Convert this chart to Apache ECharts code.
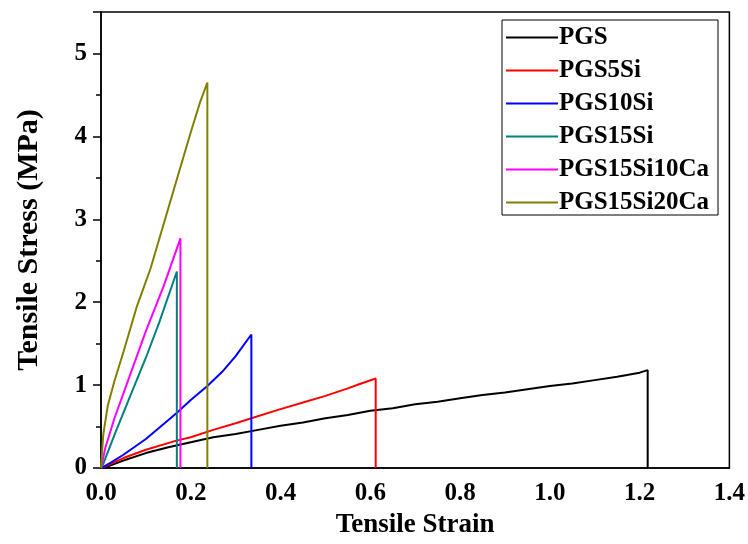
<!DOCTYPE html>
<html>
<head>
<meta charset="utf-8">
<script src="https://cdn.jsdelivr.net/npm/echarts@6/dist/echarts.min.js"></script>
<style>html,body{margin:0;padding:0;background:#fff}#c{width:748px;height:544px}</style>
</head>
<body>
<div id="c"></div>
<script>
const seriesNames = ['PGS', 'PGS5Si', 'PGS10Si', 'PGS15Si', 'PGS15Si10Ca', 'PGS15Si20Ca'];
const seriesColors = ['#000000', '#ff0000', '#0000ff', '#008080', '#ff00ff', '#808000'];
const xTicks = [0, 0.2, 0.4, 0.6, 0.8, 1.0, 1.2, 1.4];
const yTicks = [0, 1, 2, 3, 4, 5];

const pgsStrain = [0, 0.01, 0.02, 0.05, 0.1, 0.15, 0.2, 0.25, 0.3, 0.35, 0.4, 0.45, 0.5, 0.55, 0.6, 0.65, 0.7, 0.75, 0.8, 0.85, 0.9, 0.95, 1.0, 1.05, 1.1, 1.15, 1.2, 1.218, 1.218];
const pgsStress = [0, 0.01, 0.03, 0.09, 0.18, 0.25, 0.31, 0.37, 0.41, 0.46, 0.51, 0.55, 0.6, 0.64, 0.69, 0.72, 0.77, 0.8, 0.84, 0.88, 0.91, 0.95, 0.99, 1.02, 1.06, 1.1, 1.15, 1.18, 0];

const si5Strain = [0, 0.01, 0.03, 0.05, 0.1, 0.168, 0.2, 0.25, 0.3, 0.335, 0.4, 0.45, 0.5, 0.55, 0.575, 0.612, 0.612];
const si5Stress = [0, 0.02, 0.07, 0.12, 0.22, 0.33, 0.37, 0.46, 0.54, 0.6, 0.71, 0.79, 0.87, 0.96, 1.01, 1.08, 0];

const si10Strain = [0, 0.01, 0.02, 0.05, 0.1, 0.168, 0.2, 0.237, 0.27, 0.3, 0.335, 0.335];
const si10Stress = [0, 0.03, 0.06, 0.16, 0.35, 0.66, 0.82, 0.99, 1.16, 1.35, 1.61, 0];

const si15Strain = [0, 0.005, 0.03, 0.06, 0.1, 0.13, 0.169, 0.169];
const si15Stress = [0, 0.05, 0.4, 0.8, 1.33, 1.76, 2.37, 0];

const ca10Strain = [0, 0.01, 0.03, 0.06, 0.1, 0.14, 0.177, 0.177];
const ca10Stress = [0, 0.25, 0.6, 1.05, 1.65, 2.2, 2.77, 0];

const ca20Strain = [0, 0.005, 0.015, 0.03, 0.05, 0.08, 0.11, 0.14, 0.17, 0.2, 0.22, 0.237, 0.237];
const ca20Stress = [0, 0.4, 0.75, 1.05, 1.4, 1.95, 2.4, 2.95, 3.5, 4.05, 4.4, 4.65, 0];

const allStrain = [pgsStrain, si5Strain, si10Strain, si15Strain, ca10Strain, ca20Strain];
const allStress = [pgsStress, si5Stress, si10Stress, si15Stress, ca10Stress, ca20Stress];

const FONT = 'Liberation Serif';
const chart = echarts.init(document.getElementById('c'), null, {renderer: 'canvas'});
chart.setOption({
  animation: false,
  backgroundColor: '#fff',
  grid: {left: 101, right: 16, top: 12, bottom: 71, show: true, borderColor: '#000', borderWidth: 1.5, backgroundColor: 'transparent'},
  legend: {
    data: seriesNames,
    orient: 'vertical',
    left: 502, top: 20,
    padding: [5, 9, 0, 3],
    itemWidth: 52, itemHeight: 14, itemGap: 8,
    itemStyle: {opacity: 0},
    borderColor: '#000', borderWidth: 1, backgroundColor: '#fff',
    textStyle: {fontFamily: FONT, fontWeight: 'bold', fontSize: 25, color: '#000', padding: [0, 0, 0, -4]}
  },
  xAxis: {
    type: 'value', min: 0, max: 1.4, interval: 0.2,
    name: 'Tensile Strain', nameLocation: 'middle', nameGap: 44,
    nameTextStyle: {fontFamily: FONT, fontWeight: 'bold', fontSize: 27, color: '#000'},
    axisLine: {show: true, lineStyle: {color: '#000', width: 1.5}},
    axisTick: {show: false},
    splitLine: {show: false},
    axisLabel: {margin: 13, fontFamily: FONT, fontWeight: 'bold', fontSize: 25, color: '#000',
      formatter: v => xTicks.some(t => Math.abs(t - v) < 1e-9) ? v.toFixed(1) : ''}
  },
  yAxis: {
    type: 'value', min: 0, max: 5.5, interval: 1,
    name: 'Tensile Stress (MPa)', nameLocation: 'middle', nameGap: 57,
    nameTextStyle: {fontFamily: FONT, fontWeight: 'bold', fontSize: 30, color: '#000'},
    axisLine: {show: true, lineStyle: {color: '#000', width: 1.5}},
    axisTick: {show: true, inside: false, length: 8, lineStyle: {color: '#000', width: 1.5}},
    minorTick: {show: true, splitNumber: 2, length: 5, lineStyle: {color: '#000', width: 1.5}},
    splitLine: {show: false},
    axisLabel: {margin: 14, showMaxLabel: false, fontFamily: FONT, fontWeight: 'bold', fontSize: 25, color: '#000',
      formatter: v => yTicks.includes(v) ? String(v) : ''}
  },
  series: seriesNames.map((n, i) => ({
    name: n, type: 'line', symbol: 'none', showSymbol: false,
    color: seriesColors[i],
    lineStyle: {color: seriesColors[i], width: 2},
    data: allStrain[i].map((x, j) => [x, allStress[i][j]])
  }))
});
</script>
</body>
</html>
